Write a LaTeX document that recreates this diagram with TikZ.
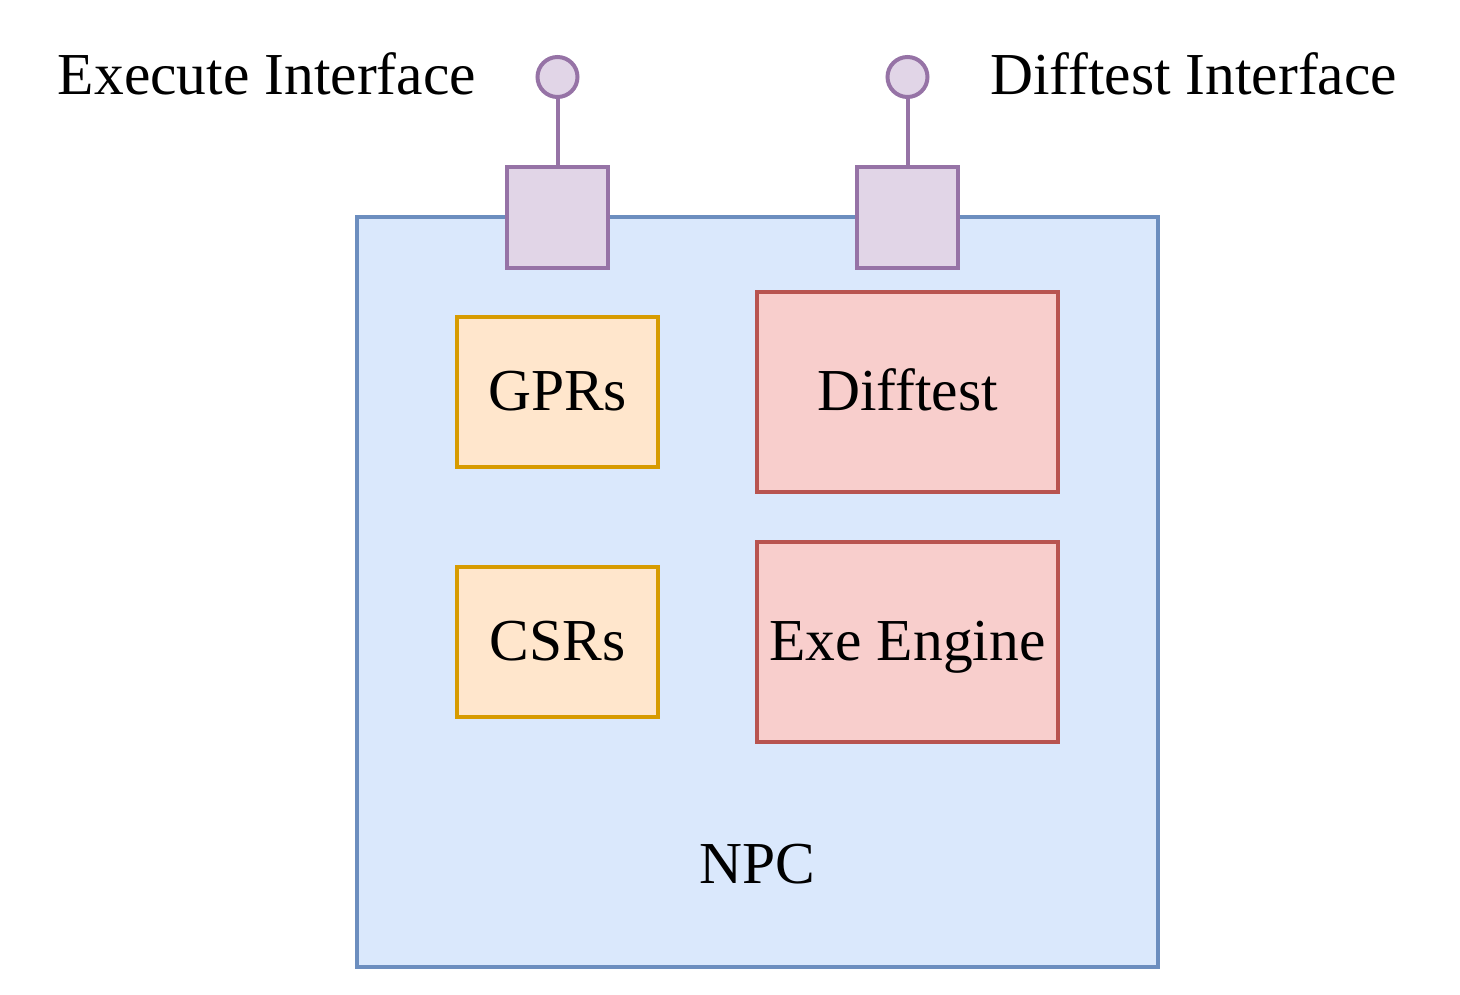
\documentclass[tikz,border=0pt]{standalone}
\usepackage{fontspec}
\setmainfont{Liberation Serif}
\definecolor{npcfill}{HTML}{DAE8FC}\definecolor{npcline}{HTML}{6C8EBF}
\definecolor{portfill}{HTML}{E1D5E7}\definecolor{portline}{HTML}{9673A6}
\definecolor{regfill}{HTML}{FFE6CC}\definecolor{regline}{HTML}{D79B00}
\definecolor{engfill}{HTML}{F8CECC}\definecolor{engline}{HTML}{B85450}
\begin{document}
\begin{tikzpicture}[x=1pt,y=-1pt,
  box/.style={draw,line width=4pt,minimum width=#1,inner sep=0pt},
  txt/.style={font=\fontsize{59.5}{70}\selectfont,text height=40pt,text depth=4pt},
  npc/.style={fill=npcfill,draw=npcline,line width=4pt},
  port/.style={box=101pt,minimum height=101pt,fill=portfill,draw=portline},
  pin/.style={circle,minimum size=40pt,inner sep=0pt,fill=portfill,draw=portline,line width=4pt},
  reg/.style={box=201pt,minimum height=150pt,fill=regfill,draw=regline,txt},
  eng/.style={box=301pt,minimum height=200pt,fill=engfill,draw=engline,txt}]
\useasboundingbox (0,0) rectangle (1460,995);
\draw[npc] (357,217) rectangle (1158,967);
\node[txt] (npclbl) at (757,865) {NPC};
\node[port] (pe) at (557.5,217.5) {};
\node[port] (pd) at (907.5,217.5) {};
\node[pin] (ce) at (557.5,77) {};
\node[pin] (cd) at (907.5,77) {};
\draw[portline,line width=4pt] (ce) -- (pe);
\draw[portline,line width=4pt] (cd) -- (pd);
\node[reg] (gpr) at (557.5,392) {GPRs};
\node[reg] (csr) at (557.5,642) {CSRs};
\node[eng] (dt) at (907.5,392) {Difftest};
\node[eng] (ee) at (907.5,642) {Exe Engine};
\node[txt,anchor=east,inner sep=0pt] (ei) at (476,77) {Execute Interface};
\node[txt,anchor=west,inner sep=0pt] (di) at (990,77) {Difftest Interface};
\end{tikzpicture}
\end{document}
